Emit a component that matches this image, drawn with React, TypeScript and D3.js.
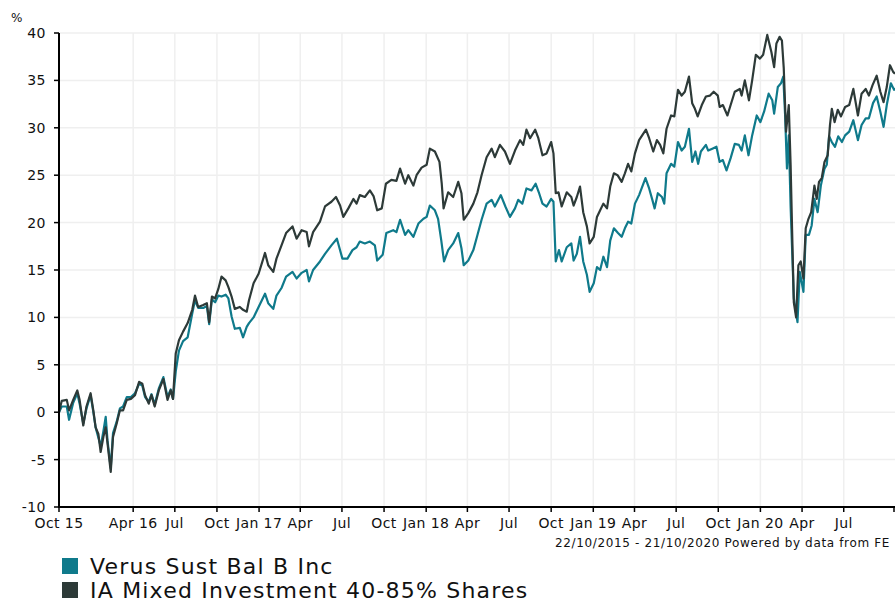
import React from 'react';
import * as d3 from 'd3';

// cumulative performance, %
const verusDates = [
  "2015-10-22", "2015-10-28", "2015-11-08", "2015-11-13", "2015-11-22", "2015-12-01", "2015-12-06", "2015-12-14",
  "2015-12-21", "2015-12-30", "2016-01-05", "2016-01-10", "2016-01-16", "2016-01-21", "2016-01-27", "2016-02-01",
  "2016-02-05", "2016-02-12", "2016-02-17", "2016-02-25", "2016-03-03", "2016-03-10", "2016-03-18", "2016-03-27",
  "2016-04-05", "2016-04-14", "2016-04-21", "2016-04-27", "2016-05-05", "2016-05-11", "2016-05-18", "2016-05-27",
  "2016-06-06", "2016-06-15", "2016-06-22", "2016-06-27", "2016-07-03", "2016-07-10", "2016-07-19", "2016-07-29",
  "2016-08-08", "2016-08-14", "2016-08-21", "2016-09-01", "2016-09-09", "2016-09-14", "2016-09-20", "2016-09-27",
  "2016-10-04", "2016-10-11", "2016-10-20", "2016-10-26", "2016-11-02", "2016-11-09", "2016-11-20", "2016-11-27",
  "2016-12-05", "2016-12-10", "2016-12-20", "2016-12-31", "2017-01-14", "2017-01-21", "2017-02-01", "2017-02-08",
  "2017-02-19", "2017-03-01", "2017-03-15", "2017-03-24", "2017-04-04", "2017-04-15", "2017-04-20", "2017-04-29",
  "2017-05-14", "2017-05-25", "2017-06-08", "2017-06-20", "2017-07-02", "2017-07-13", "2017-07-24", "2017-08-02",
  "2017-08-09", "2017-08-20", "2017-08-31", "2017-09-11", "2017-09-16", "2017-09-28", "2017-10-06", "2017-10-21",
  "2017-10-28", "2017-11-05", "2017-11-16", "2017-11-23", "2017-12-04", "2017-12-15", "2017-12-26", "2018-01-02",
  "2018-01-09", "2018-01-20", "2018-01-27", "2018-02-03", "2018-02-09", "2018-02-18", "2018-03-01", "2018-03-12",
  "2018-03-19", "2018-03-24", "2018-04-03", "2018-04-14", "2018-04-23", "2018-05-02", "2018-05-13", "2018-05-24",
  "2018-05-31", "2018-06-13", "2018-06-23", "2018-07-03", "2018-07-14", "2018-07-21", "2018-07-30", "2018-08-08",
  "2018-08-19", "2018-08-28", "2018-09-04", "2018-09-12", "2018-09-21", "2018-10-01", "2018-10-06", "2018-10-11",
  "2018-10-18", "2018-10-24", "2018-11-04", "2018-11-14", "2018-11-19", "2018-11-26", "2018-12-03", "2018-12-10",
  "2018-12-18", "2018-12-24", "2019-01-02", "2019-01-09", "2019-01-16", "2019-01-23", "2019-01-31", "2019-02-07",
  "2019-02-15", "2019-02-24", "2019-03-04", "2019-03-11", "2019-03-18", "2019-03-25", "2019-04-02", "2019-04-11",
  "2019-04-25", "2019-05-03", "2019-05-10", "2019-05-15", "2019-05-22", "2019-05-31", "2019-06-05", "2019-06-10",
  "2019-06-20", "2019-06-27", "2019-07-05", "2019-07-13", "2019-07-20", "2019-07-29", "2019-08-05", "2019-08-12",
  "2019-08-18", "2019-08-24", "2019-09-04", "2019-09-09", "2019-09-18", "2019-09-27", "2019-10-04", "2019-10-11",
  "2019-10-19", "2019-10-28", "2019-11-06", "2019-11-15", "2019-11-21", "2019-11-28", "2019-12-06", "2019-12-14",
  "2019-12-24", "2020-01-01", "2020-01-09", "2020-01-19", "2020-01-27", "2020-01-31", "2020-02-08", "2020-02-15",
  "2020-02-20", "2020-02-24", "2020-02-28", "2020-03-03", "2020-03-07", "2020-03-14", "2020-03-22", "2020-03-27",
  "2020-04-04", "2020-04-09", "2020-04-16", "2020-04-22", "2020-04-28", "2020-05-05", "2020-05-12", "2020-05-20",
  "2020-05-25", "2020-05-30", "2020-06-05", "2020-06-12", "2020-06-19", "2020-06-27", "2020-07-04", "2020-07-13",
  "2020-07-22", "2020-08-01", "2020-08-09", "2020-08-18", "2020-08-25", "2020-09-03", "2020-09-11", "2020-09-19",
  "2020-09-26", "2020-10-03", "2020-10-12", "2020-10-19", "2020-10-21",
];
const verusValues = [
  0, 0.6, 0.6, -0.8, 1.0, 2.0, 0.9, -1.2,
  0.4, 1.8, 0.0, -1.6, -2.7, -3.6, -2.0, -0.5,
  -3.0, -5.9, -2.2, -1.0, 0.4, 0.6, 1.6, 1.6,
  2.0, 3.0, 2.8, 1.6, 1.1, 1.9, 0.8, 2.5,
  3.7, 1.6, 2.4, 1.4, 4.3, 6.5, 7.5, 7.9,
  10.4, 11.8, 11.0, 11.0, 11.2, 9.3, 11.9, 11.6,
  12.3, 12.2, 12.4, 12.0, 10.1, 8.8, 8.9, 7.9,
  9.0, 9.4, 10.0, 11.1, 12.5, 11.5, 10.9, 12.3,
  13.1, 14.3, 14.8, 14.1, 14.7, 15.0, 13.8, 15.0,
  15.9, 16.7, 17.6, 18.3, 16.2, 16.2, 17.1, 17.4,
  18.0, 17.8, 18.0, 17.6, 16.0, 16.6, 18.9, 19.2,
  19.0, 20.3, 18.7, 19.2, 18.5, 19.9, 20.4, 20.6,
  21.8, 21.3, 20.4, 18.1, 15.9, 17.1, 17.8, 18.9,
  17.3, 15.5, 16.0, 17.1, 18.7, 20.3, 22.0, 22.4,
  21.7, 22.9, 21.7, 20.6, 21.5, 22.4, 22.0, 23.6,
  23.4, 24.1, 23.2, 22.0, 21.7, 22.5, 22.2, 15.9,
  17.1, 15.9, 17.4, 17.8, 16.0, 16.7, 18.5, 15.9,
  14.5, 12.7, 13.6, 15.3, 15.0, 16.4, 15.3, 18.1,
  19.4, 18.9, 18.5, 19.4, 20.1, 19.9, 22.0, 22.9,
  24.7, 23.6, 22.4, 21.5, 23.1, 22.7, 22.0, 25.2,
  26.2, 25.9, 28.5, 27.6, 28.0, 29.9, 26.4, 27.5,
  26.2, 27.5, 28.2, 27.6, 27.8, 28.0, 26.4, 26.6,
  25.5, 26.8, 28.3, 28.2, 27.6, 29.2, 27.1, 29.2,
  31.3, 30.6, 31.7, 33.6, 32.9, 31.5, 34.3, 34.7,
  35.4, 31.3, 25.7, 29.2, 21.7, 12.0, 9.5, 14.8,
  12.7, 18.7, 18.7, 19.7, 22.5, 21.1, 23.9, 25.7,
  26.1, 29.1, 28.5, 28.0, 29.1, 28.5, 29.2, 29.6,
  30.8, 28.7, 30.3, 31.0, 31.0, 32.6, 33.3, 31.7,
  30.1, 32.4, 34.7, 34.0, 34.2,
];

const sectorDates = [
  "2015-10-22", "2015-10-28", "2015-11-08", "2015-11-13", "2015-11-22", "2015-12-01", "2015-12-06", "2015-12-14",
  "2015-12-21", "2015-12-30", "2016-01-05", "2016-01-10", "2016-01-16", "2016-01-21", "2016-01-27", "2016-02-01",
  "2016-02-05", "2016-02-12", "2016-02-17", "2016-02-25", "2016-03-03", "2016-03-10", "2016-03-18", "2016-03-27",
  "2016-04-05", "2016-04-14", "2016-04-21", "2016-04-27", "2016-05-05", "2016-05-11", "2016-05-18", "2016-05-27",
  "2016-06-06", "2016-06-15", "2016-06-22", "2016-06-27", "2016-07-03", "2016-07-10", "2016-07-19", "2016-07-29",
  "2016-08-08", "2016-08-14", "2016-08-21", "2016-09-01", "2016-09-09", "2016-09-14", "2016-09-20", "2016-09-27",
  "2016-10-04", "2016-10-11", "2016-10-20", "2016-10-26", "2016-11-02", "2016-11-09", "2016-11-20", "2016-11-27",
  "2016-12-05", "2016-12-10", "2016-12-20", "2016-12-31", "2017-01-14", "2017-01-21", "2017-02-01", "2017-02-08",
  "2017-02-19", "2017-03-01", "2017-03-15", "2017-03-24", "2017-04-04", "2017-04-15", "2017-04-20", "2017-04-29",
  "2017-05-14", "2017-05-25", "2017-06-08", "2017-06-18", "2017-06-27", "2017-07-04", "2017-07-15", "2017-07-26",
  "2017-08-02", "2017-08-09", "2017-08-20", "2017-08-31", "2017-09-08", "2017-09-16", "2017-09-26", "2017-10-05",
  "2017-10-17", "2017-10-28", "2017-11-05", "2017-11-16", "2017-11-23", "2017-12-04", "2017-12-11", "2017-12-22",
  "2018-01-02", "2018-01-09", "2018-01-20", "2018-01-30", "2018-02-04", "2018-02-08", "2018-02-18", "2018-03-01",
  "2018-03-12", "2018-03-19", "2018-03-24", "2018-04-03", "2018-04-14", "2018-04-23", "2018-05-02", "2018-05-13",
  "2018-05-24", "2018-05-31", "2018-06-11", "2018-06-22", "2018-07-03", "2018-07-14", "2018-07-25", "2018-08-01",
  "2018-08-08", "2018-08-16", "2018-08-27", "2018-09-03", "2018-09-12", "2018-09-21", "2018-10-01", "2018-10-06",
  "2018-10-11", "2018-10-17", "2018-10-24", "2018-11-04", "2018-11-14", "2018-11-19", "2018-11-26", "2018-12-03",
  "2018-12-10", "2018-12-18", "2018-12-24", "2019-01-02", "2019-01-09", "2019-01-16", "2019-01-23", "2019-01-31",
  "2019-02-07", "2019-02-15", "2019-02-23", "2019-03-04", "2019-03-11", "2019-03-18", "2019-03-25", "2019-04-02",
  "2019-04-11", "2019-04-26", "2019-05-03", "2019-05-12", "2019-05-20", "2019-05-27", "2019-06-03", "2019-06-10",
  "2019-06-20", "2019-06-27", "2019-07-05", "2019-07-13", "2019-07-20", "2019-07-29", "2019-08-05", "2019-08-11",
  "2019-08-17", "2019-08-26", "2019-09-04", "2019-09-13", "2019-09-21", "2019-09-30", "2019-10-04", "2019-10-11",
  "2019-10-21", "2019-10-28", "2019-11-06", "2019-11-17", "2019-11-21", "2019-11-28", "2019-12-07", "2019-12-14",
  "2019-12-22", "2019-12-31", "2020-01-07", "2020-01-16", "2020-01-25", "2020-01-31", "2020-02-05", "2020-02-12",
  "2020-02-17", "2020-02-21", "2020-02-26", "2020-03-03", "2020-03-07", "2020-03-10", "2020-03-14", "2020-03-19",
  "2020-03-24", "2020-03-29", "2020-04-04", "2020-04-09", "2020-04-15", "2020-04-21", "2020-04-28", "2020-05-03",
  "2020-05-08", "2020-05-14", "2020-05-20", "2020-05-27", "2020-06-01", "2020-06-05", "2020-06-11", "2020-06-18",
  "2020-06-25", "2020-07-04", "2020-07-13", "2020-07-22", "2020-08-01", "2020-08-09", "2020-08-18", "2020-08-25",
  "2020-09-02", "2020-09-11", "2020-09-19", "2020-09-26", "2020-10-03", "2020-10-10", "2020-10-17", "2020-10-21",
];
const sectorValues = [
  0, 1.2, 1.3, 0.2, 1.3, 2.3, 1.3, -1.4,
  0.6, 2.0, 0.2, -1.6, -2.3, -4.2, -2.6, -1.6,
  -3.3, -6.3, -2.6, -1.2, 0.2, 0.2, 1.3, 1.4,
  1.8, 3.2, 3.0, 1.8, 0.9, 1.8, 0.6, 2.3,
  3.5, 1.3, 2.3, 1.4, 6.2, 7.6, 8.5, 9.4,
  10.8, 12.3, 11.1, 11.3, 11.5, 9.5, 12.2, 12.0,
  13.0, 14.3, 13.9, 13.2, 12.2, 10.9, 11.1, 10.8,
  10.6, 11.8, 13.6, 14.6, 16.8, 15.5, 14.8, 16.2,
  17.6, 18.9, 19.6, 18.3, 19.2, 19.0, 17.5, 19.0,
  20.1, 21.7, 22.2, 22.7, 21.8, 20.6, 21.5, 22.5,
  22.0, 22.9, 22.7, 23.4, 22.8, 21.3, 21.5, 24.1,
  24.5, 24.4, 25.7, 24.1, 25.0, 23.9, 25.0, 25.8,
  26.1, 27.8, 27.5, 26.4, 24.1, 21.5, 23.2, 22.7,
  24.3, 23.1, 20.3, 21.0, 22.0, 23.2, 25.0, 26.9,
  27.8, 26.9, 28.2, 27.5, 26.2, 27.6, 28.7, 28.2,
  29.8, 28.9, 29.8, 28.9, 27.1, 27.3, 28.5, 27.3,
  23.1, 23.2, 21.7, 23.2, 22.7, 21.8, 22.7, 23.8,
  21.1, 19.6, 17.8, 18.5, 20.6, 21.3, 22.0, 21.5,
  23.8, 25.2, 25.0, 24.3, 25.2, 26.2, 25.4, 27.3,
  28.7, 29.8, 28.9, 27.5, 28.7, 28.2, 27.3, 29.9,
  31.3, 31.2, 34.0, 33.4, 33.8, 35.4, 32.6, 32.0,
  31.2, 32.4, 33.3, 33.4, 33.8, 33.4, 32.2, 32.4,
  31.3, 32.4, 33.8, 34.1, 33.4, 35.0, 32.9, 35.0,
  37.7, 37.3, 37.7, 39.8, 38.0, 36.4, 38.9, 39.6,
  39.2, 36.3, 29.6, 32.4, 26.1, 19.7, 11.6, 10.0,
  15.5, 15.9, 14.1, 19.4, 20.4, 21.1, 23.9, 22.5,
  24.3, 24.7, 26.4, 27.1, 30.3, 32.0, 30.6, 31.9,
  31.2, 32.2, 32.4, 34.1, 31.3, 33.6, 34.1, 33.4,
  34.5, 35.5, 33.8, 32.7, 34.3, 36.6, 35.9, 35.7,
];

const seriesNames = ["Verus Sust Bal B Inc", "IA Mixed Investment 40-85% Shares"];
const seriesColors = ["#0f7a8b", "#2d3a38"];

const startDate = "2015-10-22";
const endDate = "2020-10-21";
const xTickDates = [
  "2015-10-22", "2016-04-01", "2016-07-01", "2016-10-01", "2017-01-01", "2017-04-01", "2017-07-01",
  "2017-10-01", "2018-01-01", "2018-04-01", "2018-07-01", "2018-10-01", "2019-01-01", "2019-04-01",
  "2019-07-01", "2019-10-01", "2020-01-01", "2020-04-01", "2020-07-01",
];
const xTickLabels = [
  "Oct 15", "Apr 16", "Jul", "Oct", "Jan 17", "Apr", "Jul", "Oct", "Jan 18", "Apr", "Jul",
  "Oct", "Jan 19", "Apr", "Jul", "Oct", "Jan 20", "Apr", "Jul",
];
const yTicks = [-10, -5, 0, 5, 10, 15, 20, 25, 30, 35, 40];
const footnote = "22/10/2015 - 21/10/2020 Powered by data from FE";

const W = 895;
const H = 604;
const FONT = "'DejaVu Sans', Verdana, sans-serif";

const parse = d3.timeParse("%Y-%m-%d");

export default function App() {
  const x = d3.scaleTime()
    .domain([parse(startDate)!, parse(endDate)!])
    .range([59, 895]);
  const y = d3.scaleLinear().domain([-10, 40]).range([507, 33]);

  const line = d3.line<[Date, number]>()
    .x(d => x(d[0]))
    .y(d => y(d[1]));

  const verus = verusDates.map((d, i) => [parse(d)!, verusValues[i]] as [Date, number]);
  const sector = sectorDates.map((d, i) => [parse(d)!, sectorValues[i]] as [Date, number]);

  const left = x.range()[0];
  const right = x.range()[1];
  const bottom = y.range()[0];
  const top = y.range()[1];

  return (
    <svg width={W} height={H} style={{ position: 'absolute', left: 0, top: 0, background: '#fff' }}
      fontFamily={FONT}>
      {/* grid */}
      {yTicks.map(t => (
        <line key={'gy' + t} x1={left} x2={right} y1={y(t)} y2={y(t)} stroke="#efefef" strokeWidth={1.5} />
      ))}
      {xTickDates.slice(1).map(d => (
        <line key={'gx' + d} x1={x(parse(d)!)} x2={x(parse(d)!)} y1={top} y2={bottom} stroke="#efefef" strokeWidth={1.5} />
      ))}

      {/* lines */}
      <path d={line(verus) ?? ''} fill="none" stroke={seriesColors[0]} strokeWidth={2.2} strokeLinejoin="round" />
      <path d={line(sector) ?? ''} fill="none" stroke={seriesColors[1]} strokeWidth={2.2} strokeLinejoin="round" />

      {/* axes */}
      <line x1={left} x2={left} y1={top} y2={bottom + 1} stroke="#000" strokeWidth={2} />
      <line x1={left - 1} x2={right} y1={bottom} y2={bottom} stroke="#000" strokeWidth={2} />
      {yTicks.map(t => (
        <g key={'ty' + t}>
          <line x1={left - 5} x2={left} y1={y(t)} y2={y(t)} stroke="#000" strokeWidth={1.5} />
          <text x={left - 13} y={y(t)} dy="0.35em" textAnchor="end" fontSize={14} letterSpacing={0.5} fill="#111">{t}</text>
        </g>
      ))}
      {xTickDates.map((d, i) => (
        <g key={'tx' + d}>
          <line x1={x(parse(d)!)} x2={x(parse(d)!)} y1={bottom} y2={bottom + 5} stroke="#000" strokeWidth={1.5} />
          <text x={x(parse(d)!)} y={528} textAnchor="middle" fontSize={14} letterSpacing={0.4} fill="#111">{xTickLabels[i]}</text>
        </g>
      ))}
      <line x1={right - 1} x2={right - 1} y1={bottom} y2={bottom + 5} stroke="#000" strokeWidth={1.5} />

      <text x={11} y={22} fontSize={12} fill="#111">%</text>
      <text x={890} y={547} textAnchor="end" fontSize={12} letterSpacing={0.65} fill="#111">{footnote}</text>

      {/* legend */}
      {seriesNames.map((name, i) => (
        <g key={name} transform={`translate(62, ${558 + i * 24})`}>
          <rect x={0} y={0} width={16} height={16} fill={seriesColors[i]} />
          <text x={28} y={16} fontSize={22} letterSpacing={1.2} fill="#111">{name}</text>
        </g>
      ))}
    </svg>
  );
}
